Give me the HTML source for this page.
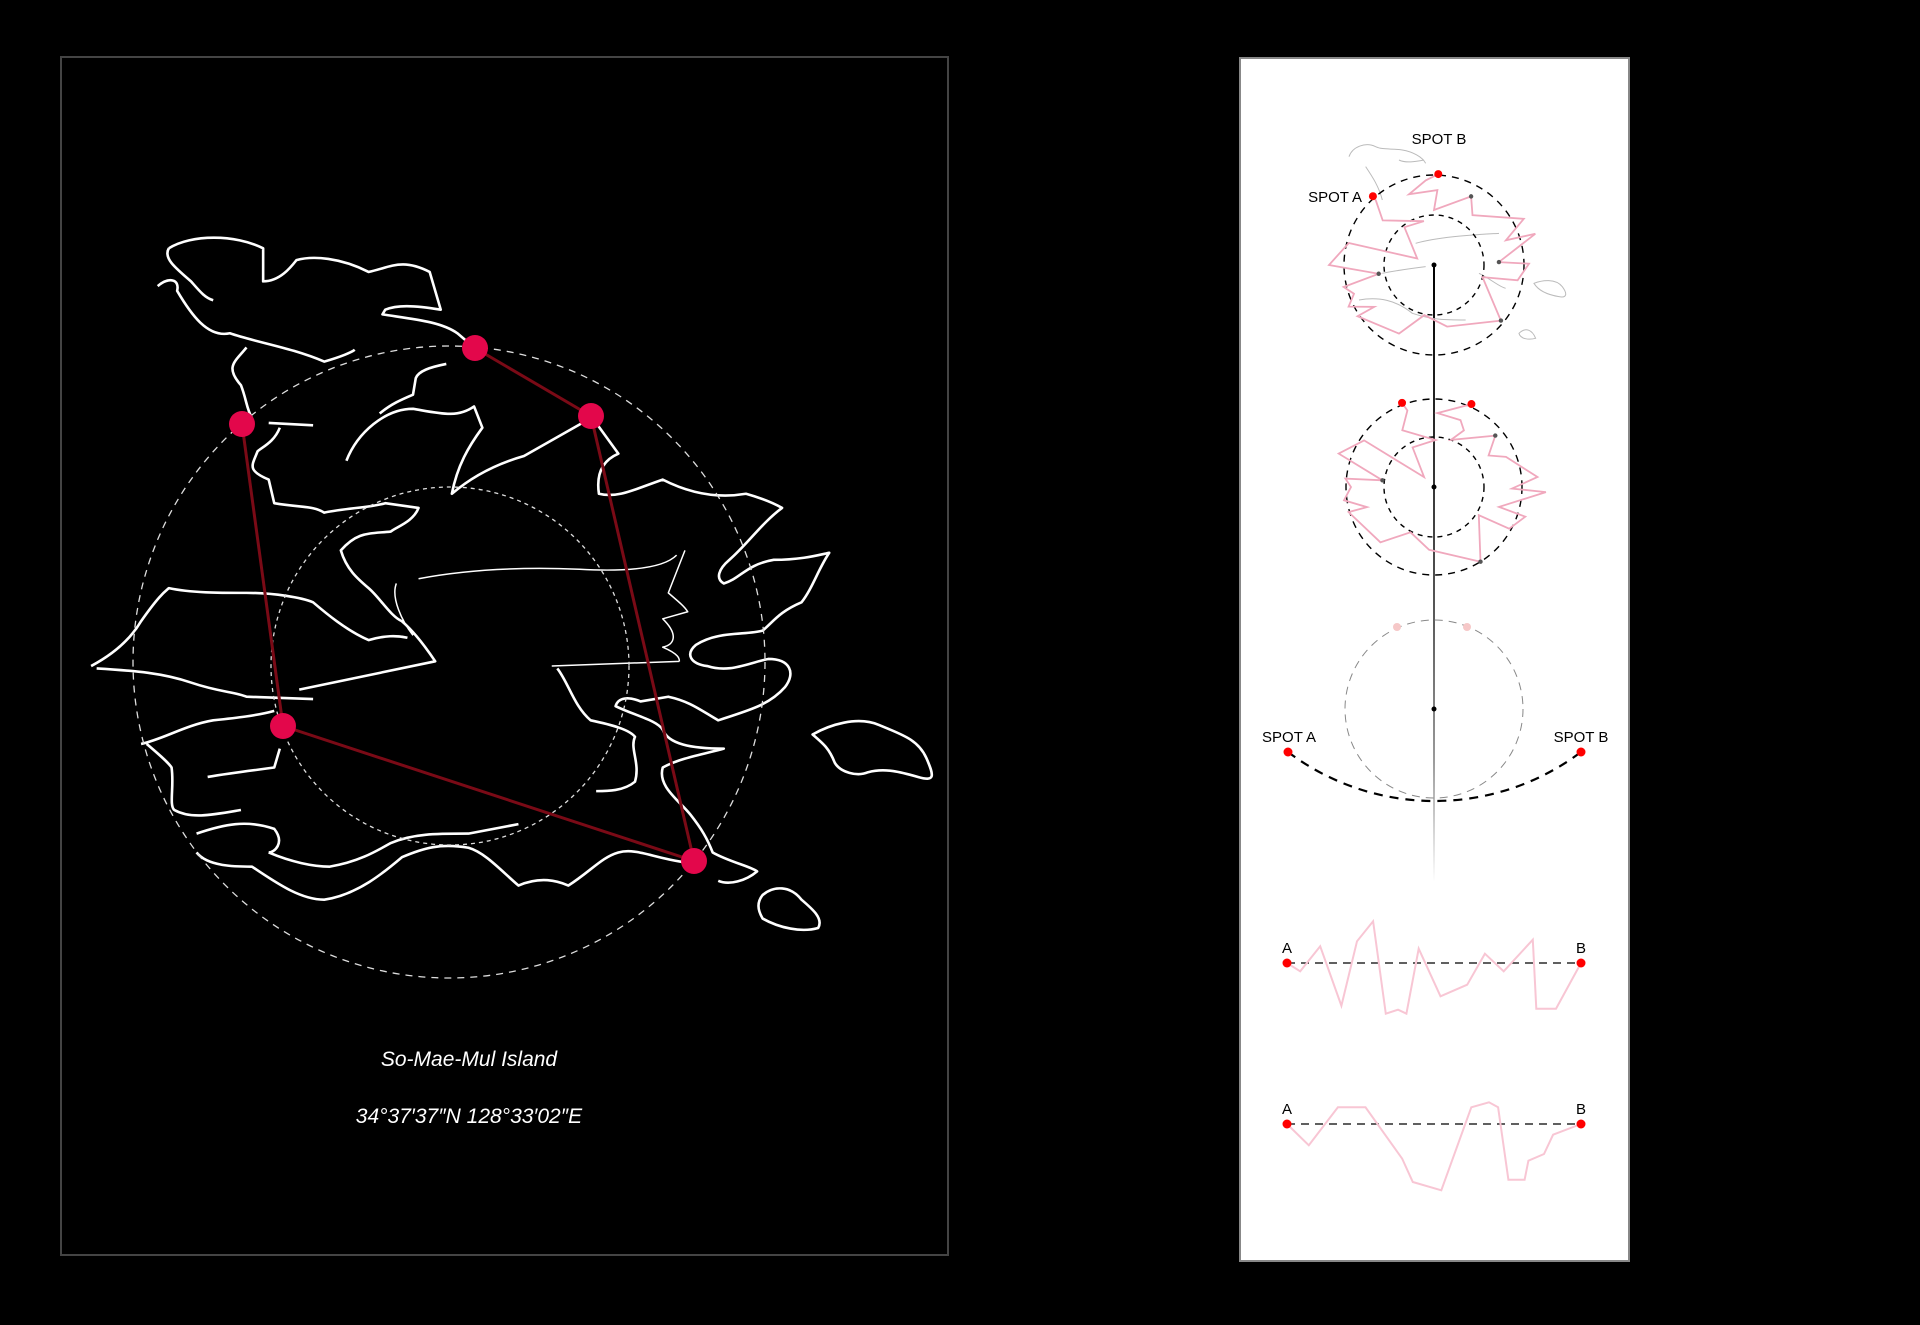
<!DOCTYPE html>
<html><head><meta charset="utf-8"><style>
html,body{margin:0;padding:0;background:#000;}
svg{display:block;font-family:"Liberation Sans",sans-serif;}
</style></head><body>
<svg id="root" width="1920" height="1325" viewBox="0 0 1920 1325">
<rect x="0" y="0" width="1920" height="1325" fill="#000"/>
<!-- LEFT PANEL -->
<rect x="61" y="57" width="887" height="1198" fill="#000" stroke="#444" stroke-width="2"/>
<g transform="translate(80,220) scale(0.555,0.472)" fill="none" stroke="#fff" stroke-width="2.6" vector-effect="non-scaling-stroke" stroke-linejoin="round">
<path vector-effect="non-scaling-stroke" d="M160,60 C200,30 280,30 330,60 L330,130 C360,130 380,100 390,85 C420,75 470,80 520,110 C560,100 580,80 630,110 L650,190 C600,180 570,180 550,190 L545,200 C600,210 650,215 680,240 L705,265"/>
<path vector-effect="non-scaling-stroke" d="M160,60 C150,80 170,100 200,130 C215,150 225,165 240,170"/>
<path vector-effect="non-scaling-stroke" d="M140,140 C160,120 180,125 175,150 C200,200 230,250 270,240 C320,260 380,270 440,300 C470,290 490,280 495,275"/>
<path vector-effect="non-scaling-stroke" d="M300,270 C280,300 260,310 290,350 C300,380 300,400 310,420 M340,430 L420,435 M360,440 C350,470 330,480 320,490 C310,520 300,530 340,550 L350,600 C400,610 420,605 440,620 C480,610 520,610 550,600 L610,610 C600,640 570,650 560,660 C520,665 500,660 470,700 C480,740 500,760 520,780 C540,800 560,840 580,850 C600,870 620,900 640,935 L395,995"/>
<path vector-effect="non-scaling-stroke" d="M480,510 C500,450 550,400 600,400 C650,410 680,420 710,395 L725,440 C700,480 680,520 670,580 C700,550 740,520 800,500 C830,480 860,460 920,420"/>
<path vector-effect="non-scaling-stroke" d="M660,305 C630,312 610,320 605,335 L600,370 C580,380 560,390 540,410"/>
<path vector-effect="non-scaling-stroke" d="M930,430 L970,495 C940,510 930,540 935,580 C970,590 1000,570 1050,550 C1100,580 1150,590 1200,580 C1230,590 1250,600 1265,610 C1230,640 1200,690 1170,720 C1150,740 1145,760 1160,770 C1190,760 1200,730 1250,720 C1300,720 1330,710 1350,705 C1330,740 1320,780 1300,810 C1260,830 1250,850 1230,870 C1200,880 1150,870 1110,900 C1090,920 1100,940 1130,945 C1170,960 1200,940 1240,930 C1280,930 1290,960 1270,990 C1240,1030 1200,1040 1150,1060 C1120,1040 1100,1020 1060,1010 L1010,1020 C990,1010 970,1010 965,1030 C1000,1050 1040,1060 1050,1080 C1060,1110 1100,1120 1160,1120 C1130,1130 1080,1140 1050,1160 C1040,1200 1080,1230 1100,1260 C1120,1290 1130,1310 1140,1340 C1170,1360 1210,1370 1220,1380 C1200,1400 1170,1410 1150,1400"/>
<path vector-effect="non-scaling-stroke" d="M210,1300 C260,1280 300,1270 350,1290 C370,1320 350,1340 340,1340 M210,1340 C230,1370 280,1370 310,1370 C360,1410 400,1440 440,1440 C500,1430 550,1380 580,1350 C620,1330 650,1320 700,1330 C730,1340 760,1380 790,1410 C830,1390 860,1400 880,1410 C920,1380 940,1350 970,1340 C1000,1330 1030,1350 1085,1360"/>
<path vector-effect="non-scaling-stroke" d="M340,1340 C380,1360 420,1370 450,1370 C500,1360 530,1340 560,1320 C600,1300 640,1300 700,1300 L790,1280"/>
<path vector-effect="non-scaling-stroke" d="M20,945 C60,920 90,890 110,850 C140,800 150,790 160,780 C200,790 250,790 300,790 C350,790 400,800 420,810 C440,830 480,870 520,890 C550,880 570,880 590,885"/>
<path vector-effect="non-scaling-stroke" d="M30,950 C100,955 150,960 200,980 C250,1000 280,1000 300,1010 L420,1015"/>
<path vector-effect="non-scaling-stroke" d="M110,1110 C150,1100 190,1070 240,1060 C280,1055 320,1050 350,1040 M120,1110 C140,1130 160,1150 165,1160 C170,1200 160,1240 170,1250 C200,1270 240,1260 290,1250 M230,1180 C280,1170 320,1165 350,1160 L360,1120"/>
<path vector-effect="non-scaling-stroke" d="M860,950 C880,980 890,1030 920,1060 C960,1070 990,1080 1000,1095 C990,1120 1010,1150 1000,1190 C980,1210 950,1210 930,1210"/>
<path vector-effect="non-scaling-stroke" stroke-width="1.5" d="M610,760 C700,740 800,735 900,740 C980,745 1050,740 1075,710 M570,770 C560,800 580,850 600,880 M850,945 L1080,935 M1090,700 L1060,790 C1080,810 1090,820 1095,830 L1050,845 C1080,880 1070,900 1050,905 C1080,920 1080,930 1080,935"/>
<path vector-effect="non-scaling-stroke" d="M1320,1090 C1350,1070 1400,1050 1440,1070 C1480,1090 1510,1100 1525,1140 C1540,1180 1540,1190 1510,1180 C1480,1170 1450,1160 1420,1170 C1400,1180 1370,1170 1360,1150 C1350,1120 1340,1110 1320,1090 Z"/>
<path vector-effect="non-scaling-stroke" d="M1230,1430 C1250,1410 1280,1410 1300,1440 C1320,1460 1340,1480 1330,1500 C1300,1510 1260,1500 1230,1480 C1220,1460 1220,1445 1230,1430 Z"/>
</g>
<circle cx="449" cy="662" r="316" fill="none" stroke="#ddd" stroke-width="1.3" stroke-dasharray="7 6"/>
<circle cx="450" cy="666" r="179" fill="none" stroke="#ddd" stroke-width="1.3" stroke-dasharray="4 4"/>
<g id="routes" stroke="#7a0a16" stroke-width="3" fill="none"></g>
<g id="spots"></g>
<text x="469" y="1066" fill="#fff" font-size="21" font-style="italic" text-anchor="middle">So-Mae-Mul Island</text>
<text x="469" y="1123" fill="#fff" font-size="21" font-style="italic" text-anchor="middle">34°37′37″N 128°33′02″E</text>

<!-- RIGHT PANEL -->
<rect x="1240" y="58" width="389" height="1203" fill="#fff" stroke="#888" stroke-width="2"/>
<defs><linearGradient id="vg" x1="0" y1="0" x2="0" y2="1">
<stop offset="0" stop-color="#000"/><stop offset="0.55" stop-color="#555"/><stop offset="0.8" stop-color="#999"/><stop offset="1" stop-color="#fff"/></linearGradient></defs>
<rect x="1433" y="265" width="2" height="617" fill="url(#vg)"/>
<g transform="translate(1239,100) scale(0.3333)" fill="none" stroke="#bbb" stroke-width="3">
<path d="M330,170 C340,140 380,125 410,140 C430,150 460,145 490,150 C520,155 550,170 560,190 M480,180 C500,190 530,185 555,180 M380,200 C400,230 420,260 430,300"/>
<path d="M885,550 C910,540 950,535 970,560 C985,580 985,595 960,590 C930,585 900,575 885,550Z M840,700 C860,680 880,690 890,715 C870,720 845,718 840,700Z"/>
<path d="M530,430 C600,410 700,405 780,400 M720,520 C760,540 780,560 800,565 M360,600 C420,590 470,600 520,640 C580,660 620,660 680,660 M430,520 C480,510 520,505 560,500"/>
</g>
<circle cx="1434" cy="265" r="90" fill="none" stroke="#000" stroke-width="1.4" stroke-dasharray="7 6"/>
<circle cx="1434" cy="265" r="50" fill="none" stroke="#000" stroke-width="1.4" stroke-dasharray="5 5"/>
<circle cx="1434" cy="487" r="88" fill="none" stroke="#000" stroke-width="1.4" stroke-dasharray="7 6"/>
<circle cx="1434" cy="487" r="50" fill="none" stroke="#000" stroke-width="1.4" stroke-dasharray="5 5"/>
<g id="polar"></g>
<circle cx="1434" cy="265" r="2.5" fill="#000"/>
<circle cx="1434" cy="487" r="2.5" fill="#000"/>
<text x="1439" y="144" font-size="15" text-anchor="middle" fill="#000">SPOT B</text>
<text x="1362" y="202" font-size="15" text-anchor="end" fill="#000">SPOT A</text>

<circle cx="1434" cy="709" r="89" fill="none" stroke="#888" stroke-width="1" stroke-dasharray="8 6"/>
<circle cx="1397" cy="627" r="4" fill="#f6c8c8"/>
<circle cx="1467" cy="627" r="4" fill="#f6c8c8"/>
<circle cx="1434" cy="709" r="2.5" fill="#000"/>
<path d="M1288,752 A243.5,243.5 0 0 0 1581,752" fill="none" stroke="#000" stroke-width="2.2" stroke-dasharray="9 7"/>
<circle cx="1288" cy="752" r="4.5" fill="#f00"/>
<circle cx="1581" cy="752" r="4.5" fill="#f00"/>
<text x="1289" y="742" font-size="15" text-anchor="middle" fill="#000">SPOT A</text>
<text x="1581" y="742" font-size="15" text-anchor="middle" fill="#000">SPOT B</text>
<g id="profiles"></g>
</svg>
<script>
// left map spots (positions in map space)
const spotX = [475, 591, 242, 283, 694];
const spotY = [348, 416, 424, 726, 861];
const routes = [[0,1],[1,4],[2,3],[3,4]];
// polar profile 1: angle (deg, ccw from east) and radius (px)
const p1Ang = [131.6,132,139,103,128,159,165.5,180,189,193.7,199.7,206,215,213.8,243,259,282,320.3,346,349.6,0.8,2.6,17.1,19,27.2,52.3,61.6,90,87.4,109.5,95.6,87.3];
const p1Rad = [92,87,68,45,48,18,88,105,56,93,85,95,73,92,77,51,63,87,50,85,95,65,106,76,101,63,78,55,75,75,85,91];
const p1Marks = [26,8,21,17];
// polar profile 2
const p2Ang = [65.7,87.4,68.4,62.1,70.3,40,30,22.7,5.5,358.8,357.4,343,342,331,327.8,301.9,265.5,242.6,225.9,196.4,196.7,188.4,180,174.6,172.6,160.7,146.3,135,118.4,88,119.2,109.2,110.8];
const p2Rad = [91,74,72,64,50,80,63,78,104,78,112,68,96,86,53,88,63,51,77,89,70,91,83,89,52,101,84,14,45,47,65,81,90];
const p2Marks = [5,24,15];
// linear profiles: position along A→B (0..1) and deviation (px, up positive)
const l1Pos = [0,.045,.113,.185,.238,.293,.336,.378,.406,.448,.522,.613,.673,.737,.836,.848,.915,1];
const l1Val = [0,-8.3,16.7,-42.7,21.7,41.7,-50.7,-46.7,-50.7,14.3,-33.3,-21.7,9.3,-8.3,23.3,-45.7,-45.7,0];
const l2Pos = [0,.074,.173,.267,.392,.428,.525,.627,.687,.718,.753,.808,.821,.874,.905,1];
const l2Val = [0,-21.3,16.7,16.7,-34.7,-58,-66.3,16.7,21.7,16.7,-55.7,-55.7,-36.7,-30,-10.7,0];

const NS='http://www.w3.org/2000/svg';
function mk(tag, parent, attrs){const e=document.createElementNS(NS,tag);for(const k in attrs)e.setAttribute(k,attrs[k]);parent.appendChild(e);return e;}

const routesG=document.getElementById('routes');
routes.forEach(function(r,i){
  const l=mk('line',routesG,{x1:spotX[r[0]],y1:spotY[r[0]],x2:spotX[r[1]],y2:spotY[r[1]]});
  
  
});
const spotsG=document.getElementById('spots');
spotX.forEach(function(x,i){
  const c=mk('circle',spotsG,{cx:x,cy:spotY[i],r:13,fill:'#e3074b'});
  
  
});

function polarPt(cx,cy,a,r){const t=a*Math.PI/180;return [cx+r*Math.cos(t),cy-r*Math.sin(t)];}
const polarG=document.getElementById('polar');
function drawPolar(cx,cy,angs,rads,marks,name){
  const pts=angs.map(function(a,i){return polarPt(cx,cy,a,rads[i]);});
  const pl=mk('polyline',polarG,{points:pts.map(p=>p[0].toFixed(1)+','+p[1].toFixed(1)).join(' '),fill:'none',stroke:'#f0a8bd','stroke-width':1.8,'stroke-linejoin':'miter'});
  
  
  marks.forEach(function(i){
    const d=mk('circle',polarG,{cx:pts[i][0],cy:pts[i][1],r:2.2,fill:'#555'});
    
    
  });
  [0,pts.length-1].forEach(function(i){
    const d=mk('circle',polarG,{cx:pts[i][0],cy:pts[i][1],r:4,fill:'#f00'});
    
    
  });
}
drawPolar(1434,265,p1Ang,p1Rad,p1Marks,'polar-profile-1');
drawPolar(1434,487,p2Ang,p2Rad,p2Marks,'polar-profile-2');

const profG=document.getElementById('profiles');
const xA=1287,xB=1581;
function xs(t){return xA+t*(xB-xA);}
function drawLinear(base,pos,val,name){
  const bl=mk('line',profG,{x1:xA,y1:base,x2:xB,y2:base,stroke:'#000','stroke-width':1.3,'stroke-dasharray':'8 6'});
  
  
  const pl=mk('polyline',profG,{points:pos.map((t,i)=>xs(t).toFixed(1)+','+(base-val[i]).toFixed(1)).join(' '),fill:'none',stroke:'#f8c6d4','stroke-width':2});
  
  
  [[xA,'A'],[xB,'B']].forEach(function(p){
    const c=mk('circle',profG,{cx:p[0],cy:base,r:4.5,fill:'#f00'});
    
    
    const t=mk('text',profG,{x:p[0],y:base-10,'font-size':15,'text-anchor':'middle',fill:'#000'});
    t.textContent=p[1];
    
    
  });
}
drawLinear(963,l1Pos,l1Val,'profile-chart-1');
drawLinear(1124,l2Pos,l2Val,'profile-chart-2');
</script>
</body></html>
